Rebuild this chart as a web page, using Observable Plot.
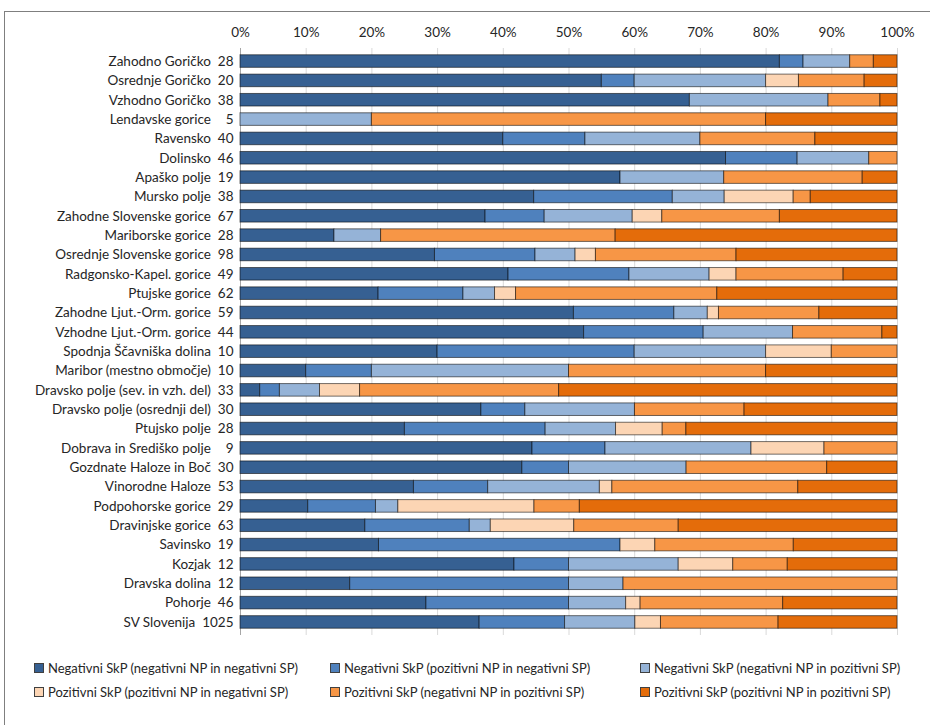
<!DOCTYPE html>
<html><head><meta charset="utf-8">
<script src="https://cdn.jsdelivr.net/npm/d3@7"></script>
<script src="https://cdn.jsdelivr.net/npm/@observablehq/plot@0.6"></script>
<style>
html,body{margin:0;padding:0;background:#fff;overflow:hidden;width:930px;height:725px}
#frame{position:absolute;left:4px;top:11px;width:940px;height:800px;border:1px solid #7f7f7f;box-sizing:border-box}
#chart{position:absolute;left:0;top:0}
#legend{position:absolute;left:0;top:0;font:13px Lato,"Open Sans",sans-serif;color:#262626}
.item{position:absolute;display:flex;align-items:center;white-space:nowrap;line-height:16px}
.sw{width:8px;height:8px;border:1px solid #404040;margin-right:4px;flex:none}
</style>
</head><body>
<div id="frame"></div>
<div id="chart"></div>
<div id="legend"></div>
<script>
const regions = ["Zahodno Goričko","Osrednje Goričko","Vzhodno Goričko","Lendavske gorice","Ravensko","Dolinsko","Apaško polje","Mursko polje","Zahodne Slovenske gorice","Mariborske gorice","Osrednje Slovenske gorice","Radgonsko-Kapel. gorice","Ptujske gorice","Zahodne Ljut.-Orm. gorice","Vzhodne Ljut.-Orm. gorice","Spodnja Ščavniška dolina","Maribor (mestno območje)","Dravsko polje (sev. in vzh. del)","Dravsko polje (osrednji del)","Ptujsko polje","Dobrava in Središko polje","Gozdnate Haloze in Boč","Vinorodne Haloze","Podpohorske gorice","Dravinjske gorice","Savinsko","Kozjak","Dravska dolina","Pohorje","SV Slovenija"];
const counts = [28,20,38,5,40,46,19,38,67,28,98,49,62,59,44,10,10,33,30,28,9,30,53,29,63,19,12,12,46,1025];

const seriesNames = [
  "Negativni SkP (negativni NP in negativni SP)",
  "Negativni SkP (pozitivni NP in negativni SP)",
  "Negativni SkP (negativni NP in pozitivni SP)",
  "Pozitivni SkP (pozitivni NP in negativni SP)",
  "Pozitivni SkP (negativni NP in pozitivni SP)",
  "Pozitivni SkP (pozitivni NP in pozitivni SP)"
];
const seriesColors = ["#366092","#4F81BD","#95B3D7","#FCD5B4","#F79646","#E46C0A"];

const negNegNeg = [82.1,55,68.4,0,40,73.9,57.9,44.7,37.3,14.3,29.6,40.8,21.0,50.8,52.3,30,10,3.0,36.7,25,44.4,42.9,26.4,10.3,19.0,21.1,41.7,16.7,28.3,36.4];
const negPozNeg = [3.6,5,0,0,12.5,10.9,0,21.1,9.0,0,15.3,18.4,12.9,15.3,18.2,30,10,3.0,6.7,21.4,11.1,7.1,11.3,10.3,15.9,36.8,8.3,33.3,21.7,13.0];
const negNegPoz = [7.1,20,21.1,20,17.5,10.9,15.8,7.9,13.4,7.1,6.1,12.2,4.8,5.1,13.6,20,30,6.1,16.7,10.7,22.2,17.9,17.0,3.4,3.2,0,16.7,8.3,8.7,10.7];
const pozPozNeg = [0,5,0,0,0,0,0,10.5,4.5,0,3.1,4.1,3.2,1.7,0,10,0,6.1,0,7.1,11.1,0,1.9,20.7,12.7,5.3,8.3,0,2.2,3.9];
const pozNegPoz = [3.6,10,7.9,60,17.5,4.3,21.1,2.6,17.9,35.7,21.4,16.3,30.6,15.3,13.6,10,30,30.3,16.7,3.6,11.1,21.4,28.3,6.9,15.9,21.1,8.3,41.7,21.7,17.9];
const pozPozPoz = [3.6,5,2.6,20,12.5,0,5.3,13.2,17.9,42.9,24.5,8.2,27.4,11.9,2.3,0,20,51.5,23.3,32.1,0,10.7,15.1,48.3,33.3,15.8,16.7,0,17.4,18.1];

const xTicks = [0,0.1,0.2,0.3,0.4,0.5,0.6,0.7,0.8,0.9,1];

const seriesValues = [negNegNeg,negPozNeg,negNegPoz,pozPozNeg,pozNegPoz,pozPozPoz];
const data = [];
regions.forEach((r,i)=>{
  seriesValues.forEach((vals,s)=>{
    if (vals[i] > 0) data.push({region:r, series:seriesNames[s], value:vals[i]});
  });
});
const labelOf = new Map(regions.map((r,i)=>[r, r + "\u00a0\u00a0" + (counts[i] < 10 ? "\u2007" : "") + counts[i]]));

const chart = Plot.plot({
  width: 930, height: 645,
  marginLeft: 240, marginRight: 33, marginTop: 48, marginBottom: 10,
  style: {fontFamily: "Lato, 'Open Sans', sans-serif", fontSize: "13.5px", color: "#262626", background: "transparent"},
  x: {domain: [0,1], axis: "top", ticks: xTicks, tickFormat: d => Math.round(d*100) + "%", tickSize: 0, tickPadding: 12, label: null},
  y: {domain: regions, padding: 0.35, round: false, tickSize: 0, tickPadding: 7, label: null, tickFormat: d => labelOf.get(d)},
  color: {domain: seriesNames, range: seriesColors},
  marks: [
    Plot.ruleX(xTicks.slice(1), {stroke: "#d9d9d9", strokeWidth: 1}),
    Plot.ruleX([0], {stroke: "#a6a6a6", strokeWidth: 1}),
    Plot.barX(data, Plot.stackX({offset: "normalize", x: "value", y: "region", fill: "series", stroke: "#000", strokeOpacity: 0.55, strokeWidth: 1}))
  ]
});
document.getElementById("chart").appendChild(chart);

const legend = document.getElementById("legend");
const colX = [34, 330, 640];
const rowY = [660, 684];
seriesNames.forEach((name,i)=>{
  const it = document.createElement("div");
  it.className = "item";
  it.style.left = colX[i%3] + "px";
  it.style.top = rowY[Math.floor(i/3)] + "px";
  const sw = document.createElement("span");
  sw.className = "sw";
  sw.style.background = seriesColors[i];
  const tx = document.createElement("span");
  tx.textContent = name;
  it.appendChild(sw); it.appendChild(tx);
  legend.appendChild(it);
});
</script>
</body></html>
